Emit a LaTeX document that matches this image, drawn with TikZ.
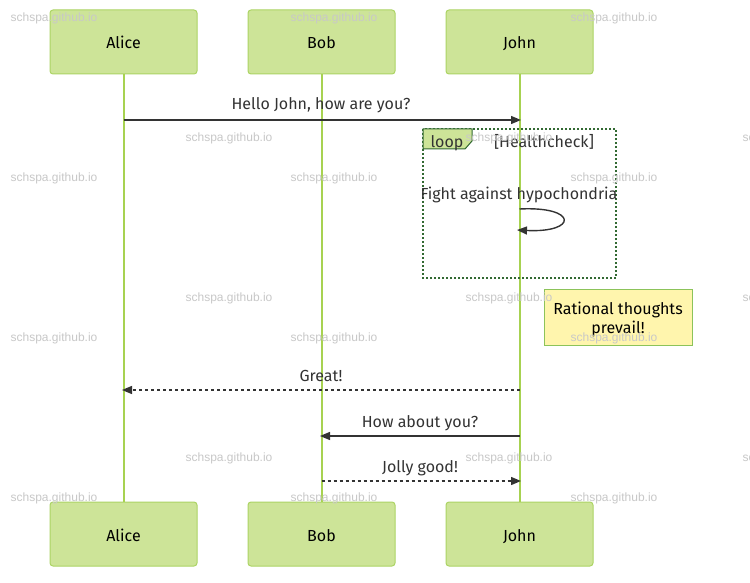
\documentclass[tikz,border=0pt]{standalone}
\usepackage{fontspec}
\setmainfont{Fira Sans}
\newfontfamily\wmfont{Liberation Sans}
\usetikzlibrary{arrows.meta}
\definecolor{actfill}{RGB}{205,228,152}
\definecolor{actdraw}{RGB}{172,212,100}
\definecolor{life}{RGB}{167,210,81}
\definecolor{msg}{RGB}{51,51,51}
\definecolor{loopc}{RGB}{50,105,50}
\definecolor{notefill}{RGB}{255,245,173}
\definecolor{notedraw}{RGB}{140,195,90}
\definecolor{wm}{RGB}{200,200,200}
\begin{document}
\begin{tikzpicture}[x=1pt,y=-1pt,
  actor/.style={draw=actdraw, fill=actfill, rounded corners=3pt, minimum width=147pt, minimum height=64pt, inner sep=0pt, line width=1pt, text height=15pt, text depth=1pt, font=\fontsize{16}{19}\selectfont},
  lifeline/.style={draw=life, line width=2pt},
  msgline/.style={draw=msg, line width=1.4pt, -{Triangle[length=10pt,width=8pt]}},
  reply/.style={msgline, dash pattern=on 3pt off 3pt},
  lbl/.style={font=\fontsize{16}{19}\selectfont, text=msg, inner sep=0pt, text height=15pt, text depth=1pt},
  notebox/.style={draw=notedraw, fill=notefill, line width=1pt, minimum width=148pt, minimum height=56pt, inner sep=0pt},
  wmark/.style={font=\wmfont\fontsize{12}{14}\selectfont, text=wm, inner sep=0pt, text height=8.5pt, text depth=0pt}]
\useasboundingbox (0,0) rectangle (750,583);
\fill[white] (0,0) rectangle (750,583);
% actors
\node[actor] (aliceT) at (123.5,42) {Alice};
\node[actor] (bobT) at (321.5,42) {Bob};
\node[actor] (johnT) at (519.5,42) {John};
\node[actor] (aliceB) at (123.5,534) {Alice};
\node[actor] (bobB) at (321.5,534) {Bob};
\node[actor] (johnB) at (519.5,534) {John};
% lifelines
\draw[lifeline] (aliceT) -- (aliceB);
\draw[lifeline] (bobT) -- (bobB);
\draw[lifeline] (johnT) -- (johnB);
% message coordinates
\coordinate (a1) at (123.5,120); \coordinate (j1) at (521,120);
\coordinate (j2) at (519.5,390); \coordinate (a2) at (122,390);
\coordinate (j3) at (519.5,436); \coordinate (b3) at (320,436);
\coordinate (b4) at (321.5,481); \coordinate (j4) at (521,481);
\coordinate (s1) at (519.5,209); \coordinate (s2) at (517,230);
% messages
\node[lbl] (m1) at (321,103) {Hello John, how are you?};
\draw[msgline] (a1) -- (j1);
% loop
\draw[loopc, line width=2pt, dash pattern=on 2pt off 2pt] (423,129) rectangle (616,278);
\draw[loopc, fill=actfill, line width=1pt] (423,129) -- (472,129) -- (472,141) -- (465,149) -- (423,149) -- cycle;
\node[lbl] (looplbl) at (447,141) {loop};
\node[lbl] (cond) at (544,141) {[Healthcheck]};
\node[lbl] (m2) at (519,193) {Fight against hypochondria};
\draw[msgline] (s1) .. controls (578,206) and (578,233) .. (s2);
% note
\node[notebox] (note) at (618,317) {};
\node[lbl, align=center, text=black] (notetxt) at (618,326) {Rational thoughts\\prevail!};
% replies
\node[lbl] (m3) at (321,374) {Great!};
\draw[reply] (j2) -- (a2);
\node[lbl] (m4) at (420,420) {How about you?};
\draw[msgline] (j3) -- (b3);
\node[lbl] (m5) at (420,465) {Jolly good!};
\draw[reply] (b4) -- (j4);
% watermarks
\foreach \x in {54,334,614} \foreach \y in {17,177,337,497}
  \node[wmark] at (\x,\y) {schspa.github.io};
\foreach \x in {229,509,786} \foreach \y in {137,297,457}
  \node[wmark] at (\x,\y) {schspa.github.io};
\end{tikzpicture}
\end{document}
